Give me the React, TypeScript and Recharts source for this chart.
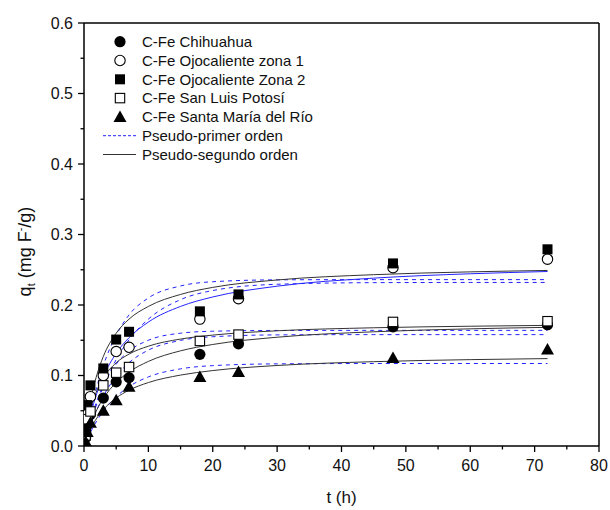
import React from 'react';
import { ComposedChart, XAxis, YAxis, Line, Scatter, ReferenceLine, Legend, Label } from 'recharts';

// Experimental sampling times (h)
const times = [0.25, 0.5, 1, 3, 5, 7, 18, 24, 48, 72];
// Measured q_t (mg F-/g)
const chihuahua = [0.012, 0.03, 0.045, 0.068, 0.091, 0.097, 0.13, 0.145, 0.169, 0.172];
const ojocaliente1 = [0.02, 0.045, 0.07, 0.1, 0.134, 0.14, 0.18, 0.209, 0.253, 0.265];
const ojocaliente2 = [0.025, 0.058, 0.086, 0.11, 0.151, 0.162, 0.191, 0.215, 0.259, 0.279];
const sanLuis = [0.015, 0.038, 0.049, 0.086, 0.104, 0.112, 0.149, 0.158, 0.176, 0.177];
const santaMaria = [0.006, 0.02, 0.033, 0.05, 0.065, 0.084, 0.098, 0.105, 0.125, 0.137];

// Fitted model curves
const curveTimes = [0, 0.5, 1, 2, 3, 5, 7, 10, 15, 20, 30, 45, 60, 72];
const oj2Second = [0, 0.0359, 0.063, 0.101, 0.127, 0.16, 0.18, 0.198, 0.215, 0.225, 0.2355, 0.243, 0.247, 0.249];
const oj1Second = [0, 0.0238, 0.0436, 0.0749, 0.0984, 0.1315, 0.1536, 0.1758, 0.198, 0.2114, 0.2267, 0.2381, 0.2443, 0.2475];
const oj2First = [0, 0.0246, 0.0466, 0.084, 0.114, 0.157, 0.186, 0.21, 0.227, 0.233, 0.2357, 0.236, 0.236, 0.236];
const oj1First = [0, 0.0168, 0.0323, 0.06, 0.084, 0.1225, 0.1508, 0.18, 0.2076, 0.2205, 0.2294, 0.2317, 0.232, 0.232];
const slSecond = [0, 0.0295, 0.0506, 0.0787, 0.0965, 0.118, 0.1304, 0.1416, 0.1517, 0.1573, 0.1634, 0.1677, 0.1699, 0.1711];
const chiSecond = [0, 0.0164, 0.03, 0.0514, 0.0675, 0.09, 0.105, 0.12, 0.135, 0.144, 0.1543, 0.162, 0.1662, 0.1683];
const slFirst = [0, 0.019, 0.0358, 0.0638, 0.0856, 0.1161, 0.1347, 0.15, 0.16, 0.1628, 0.1639, 0.164, 0.164, 0.164];
const chiFirst = [0, 0.0148, 0.0283, 0.0515, 0.0705, 0.099, 0.1182, 0.136, 0.1498, 0.155, 0.1576, 0.158, 0.158, 0.158];
const smSecond = [0, 0.0128, 0.0233, 0.0396, 0.0516, 0.0682, 0.0792, 0.09, 0.1006, 0.107, 0.1142, 0.1196, 0.1225, 0.124];
const smFirst = [0, 0.0102, 0.0195, 0.0357, 0.0491, 0.0698, 0.0843, 0.098, 0.1094, 0.114, 0.1165, 0.117, 0.117, 0.117];

const xTicks = [0, 5, 10, 15, 20, 25, 30, 35, 40, 45, 50, 55, 60, 65, 70, 75, 80];
const yTicks = [0, 0.05, 0.1, 0.15, 0.2, 0.25, 0.3, 0.35, 0.4, 0.45, 0.5, 0.55, 0.6];

const seriesNames = [
  'C-Fe Chihuahua',
  'C-Fe Ojocaliente zona 1',
  'C-Fe Ojocaliente Zona 2',
  'C-Fe San Luis Potosí',
  'C-Fe Santa María del Río',
];
const lineNames = ['Pseudo-primer orden', 'Pseudo-segundo orden'];

const BLUE = '#2323ff';
const DARK = '#333333';
const FONT = 'Arial, "Liberation Sans", sans-serif';
const TICK_SIZE = 6;
const TICK_MARGIN = 4;

const toPoints = (ys: number[]) => times.map((t, i) => ({ t, q: ys[i] }));
const toCurve = (ys: number[]) => curveTimes.map((t, i) => ({ t, q: ys[i] }));

type ShapeKind = 'dot' | 'circle' | 'square' | 'box' | 'triangle';

const Marker = ({ kind, cx, cy }: { kind: ShapeKind; cx: number; cy: number }) => {
  switch (kind) {
    case 'dot':
      return <circle cx={cx} cy={cy} r={5.6} fill="#000" />;
    case 'circle':
      return <circle cx={cx} cy={cy} r={5.2} fill="#fff" stroke="#000" strokeWidth={1.1} />;
    case 'square':
      return <rect x={cx - 5} y={cy - 5} width={10} height={10} fill="#000" />;
    case 'box':
      return <rect x={cx - 4.7} y={cy - 4.7} width={9.4} height={9.4} fill="#fff" stroke="#000" strokeWidth={1.1} />;
    case 'triangle':
      return <polygon points={`${cx},${cy - 6.5} ${cx + 6.5},${cy + 5} ${cx - 6.5},${cy + 5}`} fill="#000" />;
  }
  return null;
};

const makeShape = (kind: ShapeKind) => (props: any) => <Marker kind={kind} cx={props.cx} cy={props.cy} />;

const XTick = (props: any) => {
  const { x, y, payload } = props;
  const v = payload.value;
  const major = v % 10 === 0;
  const ay = y - TICK_SIZE - TICK_MARGIN;
  return (
    <g>
      <line x1={x} x2={x} y1={ay} y2={ay + (major ? 6 : 3.5)} stroke="#000" strokeWidth={1.3} />
      {major && (
        <text x={x} y={ay + 25} textAnchor="middle" fontSize={16} fontFamily={FONT} fill="#111">
          {v}
        </text>
      )}
    </g>
  );
};

const YTick = (props: any) => {
  const { x, y, payload } = props;
  const v = payload.value;
  const major = Math.round(v * 100) % 10 === 0;
  const ax = x + TICK_SIZE + TICK_MARGIN;
  return (
    <g>
      <line x1={ax} x2={ax - (major ? 6 : 3.5)} y1={y} y2={y} stroke="#000" strokeWidth={1.3} />
      {major && (
        <text x={ax - 11} y={y + 5.5} textAnchor="end" fontSize={16} fontFamily={FONT} fill="#111">
          {v.toFixed(1)}
        </text>
      )}
    </g>
  );
};

const YTitle = (props: any) => {
  const vb = props.viewBox || {};
  const cx = vb.x + 31;
  const cy = vb.y + vb.height / 2 + 17;
  return (
    <text
      x={cx}
      y={cy}
      transform={`rotate(-90, ${cx}, ${cy})`}
      textAnchor="middle"
      fontSize={18}
      fontFamily={FONT}
      fill="#111"
    >
      <tspan>q</tspan>
      <tspan fontSize={11} dy={4}>t</tspan>
      <tspan dy={-4}> (mg F</tspan>
      <tspan fontSize={11} dy={-7}>-</tspan>
      <tspan dy={7}>/g)</tspan>
    </text>
  );
};

const XTitle = (props: any) => {
  const vb = props.viewBox || {};
  return (
    <text x={vb.x + vb.width / 2} y={vb.y + 57} textAnchor="middle" fontSize={17} fontFamily={FONT} fill="#111">
      t (h)
    </text>
  );
};

const legendKinds: ShapeKind[] = ['dot', 'circle', 'square', 'box', 'triangle'];

const LegendBox = () => {
  const rowH = 18.8;
  const y0 = 11.7;
  return (
    <svg width={240} height={140} style={{ overflow: 'visible' }}>
      {seriesNames.map((name, i) => (
        <g key={name}>
          <Marker kind={legendKinds[i]} cx={25} cy={y0 + i * rowH} />
          <text x={47} y={y0 + i * rowH + 5.3} fontSize={15} fontFamily={FONT} fill="#111">
            {name}
          </text>
        </g>
      ))}
      <line x1={8} x2={41} y1={y0 + 5 * rowH} y2={y0 + 5 * rowH} stroke={BLUE} strokeDasharray="3 2" strokeWidth={1} />
      <text x={47} y={y0 + 5 * rowH + 5.3} fontSize={15} fontFamily={FONT} fill="#111">
        {lineNames[0]}
      </text>
      <line x1={8} x2={41} y1={y0 + 6 * rowH} y2={y0 + 6 * rowH} stroke={DARK} strokeWidth={1} />
      <text x={47} y={y0 + 6 * rowH + 5.3} fontSize={15} fontFamily={FONT} fill="#111">
        {lineNames[1]}
      </text>
    </svg>
  );
};

const firstCurves = [oj2First, oj1First, slFirst, chiFirst, smFirst];
const secondCurves: { ys: number[]; color: string }[] = [
  { ys: oj2Second, color: DARK },
  { ys: oj1Second, color: BLUE },
  { ys: slSecond, color: DARK },
  { ys: chiSecond, color: DARK },
  { ys: smSecond, color: DARK },
];
const pointSeries: { ys: number[]; kind: ShapeKind }[] = [
  { ys: chihuahua, kind: 'dot' },
  { ys: ojocaliente1, kind: 'circle' },
  { ys: ojocaliente2, kind: 'square' },
  { ys: sanLuis, kind: 'box' },
  { ys: santaMaria, kind: 'triangle' },
];

export default function App() {
  return (
    <div style={{ position: 'absolute', left: 0, top: 0, width: 610, height: 510, background: '#fff' }}>
      <ComposedChart width={610} height={510} margin={{ top: 23, right: 11, bottom: 4, left: 0 }}>
        <XAxis
          dataKey="t"
          type="number"
          domain={[0, 80]}
          ticks={xTicks}
          interval={0}
          tickSize={TICK_SIZE}
          tickMargin={TICK_MARGIN}
          tickLine={false}
          tick={<XTick />}
          axisLine={{ stroke: '#000', strokeWidth: 1.5 }}
          height={60}
          allowDataOverflow
        >
          <Label content={<XTitle />} />
        </XAxis>
        <YAxis
          dataKey="q"
          type="number"
          domain={[0, 0.6]}
          ticks={yTicks}
          interval={0}
          tickSize={TICK_SIZE}
          tickMargin={TICK_MARGIN}
          tickLine={false}
          tick={<YTick />}
          axisLine={{ stroke: '#000', strokeWidth: 1.5 }}
          width={84}
          allowDataOverflow
        >
          <Label content={<YTitle />} />
        </YAxis>
        <ReferenceLine y={0.6} stroke="#000" strokeWidth={1.5} />
        <ReferenceLine x={80} stroke="#000" strokeWidth={1.5} />
        {firstCurves.map((ys, i) => (
          <Line
            key={'f' + i}
            data={toCurve(ys)}
            dataKey="q"
            type="monotone"
            stroke={BLUE}
            strokeWidth={1}
            strokeDasharray="4 4"
            dot={false}
            activeDot={false}
            legendType="none"
            isAnimationActive={false}
          />
        ))}
        {secondCurves.map((c, i) => (
          <Line
            key={'s' + i}
            data={toCurve(c.ys)}
            dataKey="q"
            type="monotone"
            stroke={c.color}
            strokeWidth={1}
            dot={false}
            activeDot={false}
            legendType="none"
            isAnimationActive={false}
          />
        ))}
        {pointSeries.map((s, i) => (
          <Scatter
            key={'p' + i}
            name={seriesNames[i]}
            data={toPoints(s.ys)}
            dataKey="q"
            shape={makeShape(s.kind)}
            legendType="none"
            isAnimationActive={false}
          />
        ))}
        <Legend
          layout="horizontal"
          align="center"
          verticalAlign="middle"
          content={<LegendBox />}
          wrapperStyle={{ position: 'absolute', left: 95, top: 30, width: 240, height: 140 }}
        />
      </ComposedChart>
    </div>
  );
}
